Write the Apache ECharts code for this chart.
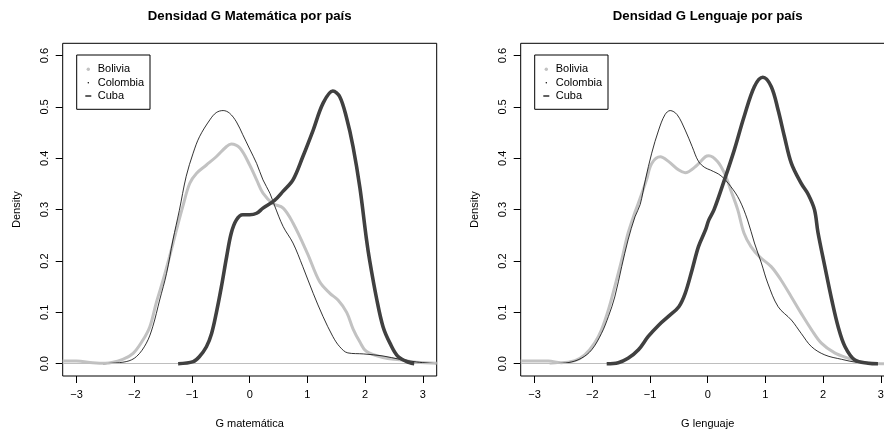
<!DOCTYPE html>
<html>
<head>
<meta charset="utf-8">
<script src="https://cdn.jsdelivr.net/npm/echarts@6/dist/echarts.min.js"></script>
<style>html,body{margin:0;padding:0;background:#fff}#c{width:884px;height:431px}</style>
</head>
<body>
<div id="c"></div>
<script>
// ---- data ----
const panelTitles = ['Densidad G Matemática por país', 'Densidad G Lenguaje por país'];
const xAxisNames = ['G matemática', 'G lenguaje'];
const yAxisName = 'Density';
const countries = ['Bolivia', 'Colombia', 'Cuba'];
const xTicks = [-3, -2, -1, 0, 1, 2, 3];
const yTicks = [0, 0.1, 0.2, 0.3, 0.4, 0.5, 0.6];

// Matemática
const matBoliviaX = [-3.24,-3.0,-2.72,-2.5,-2.2,-2.02,-1.85,-1.73,-1.62,-1.50,-1.39,-1.27,-1.16,-1.04,-0.92,-0.75,-0.58,-0.40,-0.32,-0.17,0,0.12,0.23,0.40,0.58,0.75,1.0,1.21,1.39,1.53,1.68,1.79,1.91,2.02,2.31,2.60,2.89,3.24];
const matBoliviaY = [0.005,0.005,0.002,0.001,0.0085,0.02,0.046,0.072,0.118,0.163,0.208,0.26,0.306,0.351,0.371,0.387,0.403,0.423,0.428,0.42,0.387,0.358,0.332,0.312,0.303,0.274,0.215,0.16,0.137,0.124,0.1,0.068,0.042,0.024,0.012,0.0075,0.003,0.001];
const matColombiaX = [-2.54,-2.14,-1.96,-1.79,-1.68,-1.56,-1.44,-1.33,-1.22,-1.10,-0.98,-0.87,-0.69,-0.58,-0.46,-0.35,-0.23,-0.12,0,0.12,0.23,0.35,0.43,0.58,0.75,0.92,1.10,1.27,1.44,1.56,1.70,1.97,2.31,2.60,2.89,3.24];
const matColombiaY = [0,0.004,0.014,0.04,0.072,0.124,0.176,0.241,0.298,0.365,0.41,0.442,0.475,0.489,0.493,0.488,0.471,0.446,0.418,0.39,0.358,0.332,0.308,0.267,0.235,0.189,0.137,0.092,0.053,0.033,0.021,0.019,0.015,0.0085,0.0033,0];
const matCubaX = [-1.24,-0.98,-0.87,-0.75,-0.66,-0.58,-0.49,-0.40,-0.32,-0.23,-0.12,0,0.12,0.23,0.43,0.58,0.75,0.92,1.10,1.27,1.44,1.56,1.68,1.79,1.91,2.02,2.08,2.20,2.31,2.43,2.57,2.77,2.85];
const matCubaY = [0,0.004,0.014,0.033,0.059,0.098,0.15,0.208,0.254,0.28,0.29,0.29,0.293,0.303,0.318,0.336,0.358,0.403,0.455,0.507,0.531,0.52,0.478,0.423,0.342,0.245,0.2,0.126,0.072,0.04,0.014,0.002,0];

// Lenguaje
const lenBoliviaX = [-3.24,-2.76,-2.54,-2.30,-2.13,-1.96,-1.84,-1.72,-1.61,-1.49,-1.38,-1.26,-1.21,-1.06,-0.97,-0.82,-0.68,-0.50,-0.39,-0.21,-0.04,0.02,0.17,0.29,0.40,0.52,0.63,0.75,0.90,1.10,1.27,1.45,1.62,1.80,1.97,2.20,2.44,2.67,3.0,3.24];
const lenBoliviaY = [0.005,0.005,0.002,0.006,0.017,0.04,0.066,0.105,0.15,0.202,0.254,0.295,0.31,0.358,0.39,0.403,0.394,0.377,0.372,0.384,0.403,0.405,0.394,0.371,0.338,0.30,0.254,0.228,0.208,0.189,0.163,0.13,0.098,0.066,0.04,0.021,0.0105,0.003,0,0];
const lenColombiaX = [-2.74,-2.42,-2.19,-2.01,-1.84,-1.72,-1.61,-1.49,-1.38,-1.26,-1.17,-1.08,-0.97,-0.85,-0.74,-0.65,-0.53,-0.39,-0.27,-0.16,-0.05,0.05,0.23,0.40,0.55,0.69,0.81,0.93,1.04,1.22,1.45,1.62,1.80,2.03,2.32,2.61,2.95];
const lenColombiaY = [0,0.002,0.0105,0.027,0.059,0.092,0.13,0.189,0.241,0.286,0.31,0.358,0.41,0.455,0.485,0.493,0.485,0.455,0.423,0.394,0.382,0.377,0.366,0.345,0.319,0.28,0.235,0.196,0.157,0.111,0.085,0.059,0.033,0.017,0.0085,0.002,0];
const lenCubaX = [-1.75,-1.55,-1.38,-1.20,-1.03,-0.85,-0.68,-0.50,-0.39,-0.27,-0.16,-0.04,0.02,0.11,0.29,0.46,0.63,0.81,0.955,1.10,1.22,1.33,1.45,1.62,1.74,1.85,1.91,2.03,2.15,2.26,2.38,2.55,2.78,2.95];
const lenCubaY = [0,0.002,0.0105,0.027,0.053,0.075,0.092,0.111,0.137,0.183,0.228,0.26,0.28,0.30,0.358,0.416,0.481,0.54,0.558,0.54,0.494,0.442,0.39,0.351,0.33,0.30,0.256,0.189,0.124,0.072,0.033,0.007,0.001,0];

// ---- build chart ----
const FONT = '"Liberation Sans", Arial, Helvetica, sans-serif';
const pairs = (xs, ys) => xs.map((x, i) => [x, ys[i]]);
const panels = [
  [pairs(matBoliviaX, matBoliviaY), pairs(matColombiaX, matColombiaY), pairs(matCubaX, matCubaY)],
  [pairs(lenBoliviaX, lenBoliviaY), pairs(lenColombiaX, lenColombiaY), pairs(lenCubaX, lenCubaY)]
];
const gridLeft = [62.7, 520.7], gridTop = 43.3, gridW = 374, gridH = 332.7;
const fmtX = v => (v < 0 ? '\u2212' + Math.abs(v) : String(v));
const styles = [
  {color: '#c2c2c2', width: 3},
  {color: '#000000', width: 0.8},
  {color: '#404040', width: 3.6}
];

const grid = [], xAxis = [], yAxis = [], series = [], title = [], graphic = [];
for (let p = 0; p < 2; p++) {
  grid.push({left: gridLeft[p], top: gridTop, width: gridW, height: gridH, show: true,
    outerBoundsMode: 'none', containLabel: false,
    borderColor: '#000', borderWidth: 1, backgroundColor: 'transparent'});
  xAxis.push({type: 'value', gridIndex: p, min: -3.24, max: 3.24, position: 'bottom',
    splitLine: {show: false}, axisLine: {show: false, onZero: false},
    axisTick: {show: true, inside: false, length: 7, lineStyle: {color: '#000'}, customValues: xTicks},
    axisLabel: {customValues: xTicks, formatter: fmtX, margin: 13, fontSize: 11, color: '#000', fontFamily: FONT}});
  yAxis.push({type: 'value', gridIndex: p, min: -0.024, max: 0.624, position: 'left',
    splitLine: {show: false}, axisLine: {show: false, onZero: false},
    axisTick: {show: true, inside: false, length: 7, lineStyle: {color: '#000'}, customValues: yTicks},
    axisLabel: {customValues: yTicks, rotate: 90, formatter: v => v.toFixed(1), margin: 12, fontSize: 11, color: '#000', fontFamily: FONT}});
  panels[p].forEach((data, k) => {
    const s = {name: countries[k], type: 'line', xAxisIndex: p, yAxisIndex: p, data: data,
      showSymbol: false, symbol: 'none', smooth: 0.35, clip: true, silent: true,
      lineStyle: {color: styles[k].color, width: styles[k].width}, z: 3 + k};
    if (k === 0) {
      s.markLine = {silent: true, symbol: ['none', 'none'], label: {show: false},
        lineStyle: {color: '#bebebe', width: 1, type: 'solid'}, data: [{yAxis: 0}]};
    }
    series.push(s);
  });
  const cx = gridLeft[p] + gridW / 2;
  title.push({text: panelTitles[p], left: cx, top: 10, textAlign: 'center', padding: 0,
    textStyle: {fontSize: 13.2, fontWeight: 'bold', color: '#000', fontFamily: FONT}});
  // axis titles
  graphic.push({type: 'text', x: cx, y: 424.3, style: {text: xAxisNames[p], fill: '#000',
    font: '11px ' + FONT, textAlign: 'center', textVerticalAlign: 'middle'}});
  graphic.push({type: 'text', x: gridLeft[p] - 45.4, y: gridTop + gridH / 2, rotation: Math.PI / 2,
    style: {text: yAxisName, fill: '#000', font: '11px ' + FONT, textAlign: 'center', textVerticalAlign: 'middle'}});
  // legend box
  const lx = gridLeft[p] + 14, ly = 55;
  graphic.push({type: 'rect', shape: {x: lx, y: ly, width: 73.3, height: 54.3},
    style: {fill: '#fff', stroke: '#000', lineWidth: 1}, z: 10});
  const rows = [ly + 14.3, ly + 27.7, ly + 41];
  graphic.push({type: 'circle', shape: {cx: lx + 11.6, cy: rows[0], r: 1.7}, style: {fill: '#c2c2c2'}, z: 11});
  graphic.push({type: 'circle', shape: {cx: lx + 11.6, cy: rows[1], r: 0.7}, style: {fill: '#000'}, z: 11});
  graphic.push({type: 'line', shape: {x1: lx + 8.6, y1: rows[2], x2: lx + 14.6, y2: rows[2]},
    style: {stroke: '#3a3a3a', lineWidth: 1.6}, z: 11});
  countries.forEach((c, k) => {
    graphic.push({type: 'text', x: lx + 21, y: rows[k], z: 11,
      style: {text: c, fill: '#000', font: '11px ' + FONT, textAlign: 'left', textVerticalAlign: 'middle'}});
  });
}

const chart = echarts.init(document.getElementById('c'), null, {renderer: 'canvas'});
chart.setOption({
  animation: false,
  backgroundColor: '#fff',
  title, grid, xAxis, yAxis, series, graphic
});
</script>
</body>
</html>
